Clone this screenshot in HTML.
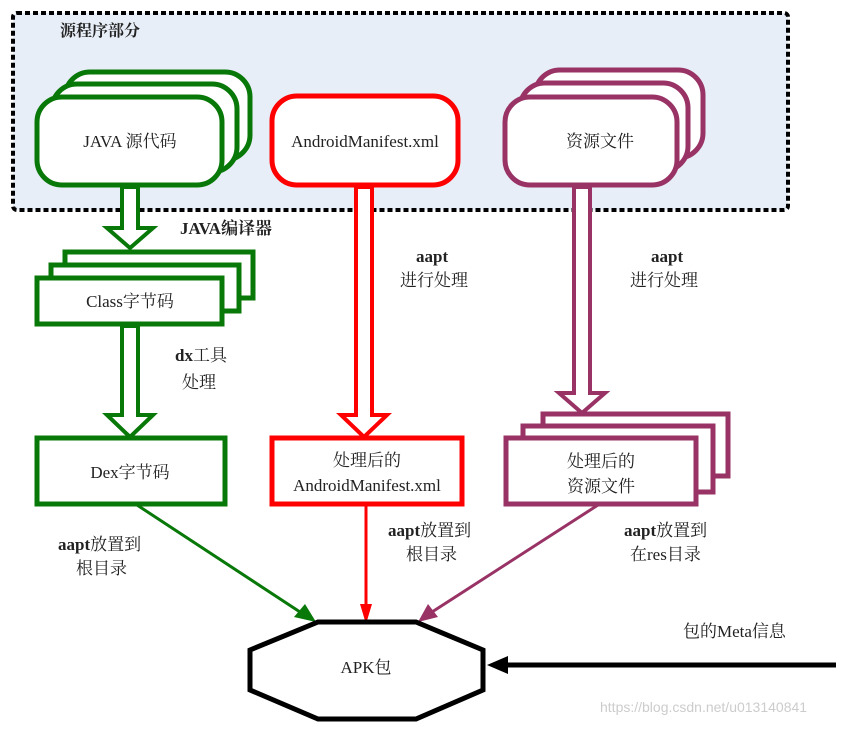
<!DOCTYPE html>
<html><head><meta charset="utf-8"><style>
body{margin:0;background:#fff}
text{font-family:"Liberation Serif","Noto Serif CJK SC",serif;font-size:17px;fill:#222}
.b{font-weight:bold}
</style></head><body>
<svg width="844" height="725" xmlns="http://www.w3.org/2000/svg">
<rect x="13" y="13" width="775" height="197" rx="4" fill="#e8eef8" stroke="#000" stroke-width="4" stroke-dasharray="5,3"/>
<text x="60" y="36" class="b" style="font-size:16px">源程序部分</text>
<g fill="#fff" stroke="#087808" stroke-width="5">
<rect x="65" y="72" width="185" height="88" rx="25"/>
<rect x="52" y="84" width="185" height="88" rx="25"/>
<rect x="37" y="97" width="185" height="88" rx="25"/>
</g>
<text x="130" y="147" text-anchor="middle">JAVA 源代码</text>
<rect x="272" y="96" width="186" height="89" rx="25" fill="#fff" stroke="#f00" stroke-width="5"/>
<text x="365" y="147" text-anchor="middle">AndroidManifest.xml</text>
<g fill="#fff" stroke="#993366" stroke-width="5">
<rect x="535" y="70" width="168" height="88" rx="25"/>
<rect x="520" y="83" width="168" height="88" rx="25"/>
<rect x="505" y="97" width="172" height="88" rx="25"/>
</g>
<text x="600" y="147" text-anchor="middle">资源文件</text>
<!-- hollow arrows -->
<polygon points="122,187 138,187 138,228 153,228 130,248 107,228 122,228" fill="#fff" stroke="#087808" stroke-width="4"/>
<polygon points="122,326 138,326 138,415 153,415 130,437 107,415 122,415" fill="#fff" stroke="#087808" stroke-width="4"/>
<polygon points="356,187 372,187 372,415 387,415 364,437 341,415 356,415" fill="#fff" stroke="#f00" stroke-width="4"/>
<polygon points="574,187 590,187 590,393 605,393 582,413 559,393 574,393" fill="#fff" stroke="#993366" stroke-width="4"/>
<text x="180" y="234" class="b">JAVA编译器</text>
<g fill="#fff" stroke="#087808" stroke-width="5">
<rect x="65" y="252" width="188" height="46"/>
<rect x="51" y="265" width="188" height="46"/>
<rect x="37" y="278" width="185" height="46"/>
</g>
<text x="130" y="307" text-anchor="middle">Class字节码</text>
<text x="175" y="361" class="b">dx<tspan style="font-weight:normal">工具</tspan></text>
<text x="182" y="388">处理</text>
<text x="416" y="262" class="b">aapt</text>
<text x="400" y="286">进行处理</text>
<text x="651" y="262" class="b">aapt</text>
<text x="630" y="286">进行处理</text>
<rect x="37" y="438" width="188" height="66" fill="#fff" stroke="#087808" stroke-width="5"/>
<text x="130" y="478" text-anchor="middle">Dex字节码</text>
<rect x="272" y="438" width="190" height="66" fill="#fff" stroke="#f00" stroke-width="5"/>
<text x="367" y="466" text-anchor="middle">处理后的</text>
<text x="367" y="491" text-anchor="middle">AndroidManifest.xml</text>
<g fill="#fff" stroke="#993366" stroke-width="5">
<rect x="543" y="414" width="185" height="62"/>
<rect x="523" y="426" width="190" height="66"/>
<rect x="506" y="438" width="190" height="66"/>
</g>
<text x="601" y="467" text-anchor="middle">处理后的</text>
<text x="601" y="492" text-anchor="middle">资源文件</text>
<text x="58" y="550" class="b">aapt<tspan style="font-weight:normal">放置到</tspan></text>
<text x="76" y="574">根目录</text>
<text x="388" y="536" class="b">aapt<tspan style="font-weight:normal">放置到</tspan></text>
<text x="406" y="560">根目录</text>
<text x="624" y="536" class="b">aapt<tspan style="font-weight:normal">放置到</tspan></text>
<text x="630" y="560">在res目录</text>
<text x="683" y="637">包的Meta信息</text>
<!-- connectors -->
<g stroke-width="3" fill="none">
<line x1="137" y1="505" x2="300" y2="612" stroke="#087808"/>
<line x1="366" y1="505" x2="366" y2="610" stroke="#f00"/>
<line x1="598" y1="505" x2="432" y2="612" stroke="#993366"/>
<line x1="836" y1="665" x2="505" y2="665" stroke="#000" stroke-width="5"/>
</g>
<polygon points="316,622 294,617 305,604" fill="#087808"/>
<polygon points="366,624 360,604 372,604" fill="#f00"/>
<polygon points="418,622 428,604 438,617" fill="#993366"/>
<polygon points="487,665 508,656 508,674" fill="#000"/>
<polygon points="318,622 416,622 483,650 483,690 416,719 318,719 250,690 250,650" fill="#fff" stroke="#000" stroke-width="5"/>
<text x="366" y="673" text-anchor="middle">APK包</text>
<text x="600" y="712" style="font-family:'Liberation Sans',sans-serif;font-size:14px;fill:#ccc">https://blog.csdn.net/u013140841</text>
</svg>
</body></html>
